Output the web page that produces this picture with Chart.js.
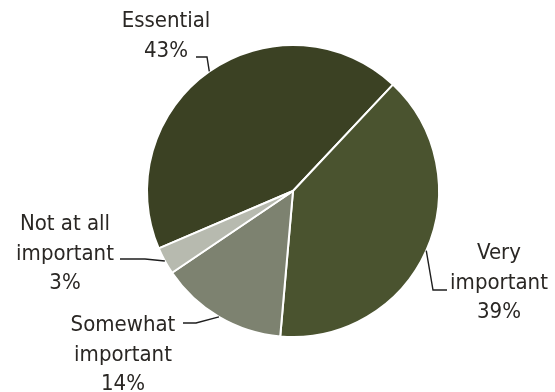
<!DOCTYPE html>
<html>
<head>
<meta charset="utf-8">
<script src="https://cdn.jsdelivr.net/npm/chart.js@4.4.0/dist/chart.umd.min.js"></script>
<style>
    html, body { margin: 0; padding: 0; background: #fff; }
    #wrap { width: 555px; height: 392px; }
</style>
</head>
<body>
<div id="wrap"><canvas id="importanceChart"></canvas></div>
<script>
// categories (split into the lines they are printed on) and shares in %
const categories = [
    ['Essential'],
    ['Very', 'important'],
    ['Somewhat', 'important'],
    ['Not at all', 'important']
];
const shares = [43, 39, 14, 3];
const shareLabels = ['43%', '39%', '14%', '3%'];
const sliceColors = ['#3b4123', '#4a532f', '#7d8270', '#b7baaf'];

// where each label sits: text centre x, first baseline y, and the leader
// points running from the text towards the slice edge
const labelLayout = [
    { x: 166, y: 27,  leader: [[196, 57], [207, 57]] },
    { x: 499, y: 259, leader: [[447, 290], [433, 290]] },
    { x: 123, y: 331, leader: [[183, 323], [196, 323]] },
    { x: 65,  y: 230, leader: [[120, 259], [145, 259]] }
];

const calloutLabels = {
    id: 'calloutLabels',
    afterDraw(chart) {
        const ctx = chart.ctx;
        const arcs = chart.getDatasetMeta(0).data;
        ctx.save();
        ctx.font = '22px "DejaVu Sans Condensed", "DejaVu Sans"';
        ctx.fillStyle = '#2a2724';
        ctx.textAlign = 'center';
        ctx.textBaseline = 'alphabetic';
        ctx.strokeStyle = '#1e1e1e';
        ctx.lineWidth = 1.4;

        arcs.forEach((arc, i) => {
            const pos = labelLayout[i];
            const lines = categories[i].concat([shareLabels[i]]);
            lines.forEach((line, k) => {
                ctx.fillText(line, pos.x, pos.y + k * 29.5);
            });

            // leader ends on the outer edge at the middle of the slice
            const { x, y, startAngle, endAngle, outerRadius } = arc.getProps(['x', 'y', 'startAngle', 'endAngle', 'outerRadius'], true);
            const mid = (startAngle + endAngle) / 2;
            const ex = x + Math.cos(mid) * outerRadius;
            const ey = y + Math.sin(mid) * outerRadius;

            ctx.beginPath();
            ctx.moveTo(pos.leader[0][0], pos.leader[0][1]);
            for (let p = 1; p < pos.leader.length; p++) {
                ctx.lineTo(pos.leader[p][0], pos.leader[p][1]);
            }
            ctx.lineTo(ex, ey);
            ctx.stroke();
        });
        ctx.restore();
    }
};

const ctx = document.getElementById('importanceChart').getContext('2d');
const total = shares.reduce((a, b) => a + b, 0);

const importanceChart = new Chart(ctx, {
    type: 'pie',
    data: {
        labels: categories,
        datasets: [{
            data: shares,
            backgroundColor: sliceColors,
            borderColor: '#ffffff',
            borderWidth: 2
        }]
    },
    options: {
        responsive: true,
        maintainAspectRatio: false,
        animation: false,
        // Essential ends just right of the top, where Very important begins
        rotation: 43.2 - shares[0] / total * 360,
        layout: {
            padding: { left: 146, right: 115, top: 44, bottom: 54 }
        },
        plugins: {
            legend: { display: false },
            tooltip: { enabled: false }
        }
    },
    plugins: [calloutLabels]
});
</script>
</body>
</html>
